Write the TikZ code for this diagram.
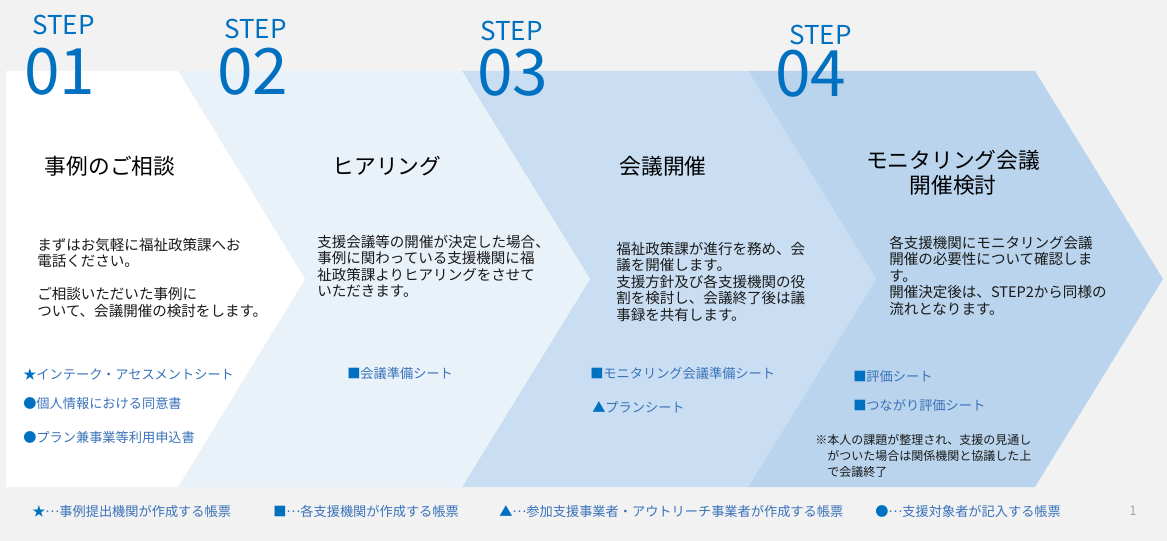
\documentclass[tikz,border=0pt]{standalone}
\usepackage{fontspec}
\setmainfont{Noto Sans CJK JP}
\definecolor{bggray}{HTML}{F2F2F2}
\definecolor{stepone}{HTML}{FFFFFF}
\definecolor{steptwo}{HTML}{E9F1F9}
\definecolor{stepthree}{HTML}{C9DEF2}
\definecolor{stepfour}{HTML}{B9D4EC}
\definecolor{stepblue}{HTML}{0070C0}
\definecolor{itemblue}{HTML}{3A72BA}
\definecolor{textblack}{HTML}{1A1A1A}
\definecolor{pagegray}{HTML}{A6A6A6}
\newcommand{\sy}[1]{\textcolor{stepblue}{#1}}
\newcommand{\mdots}{\raisebox{0.3em}{…}}
\tikzset{
  stepword/.style={anchor=west, inner sep=0, text=stepblue, font=\fontsize{19.5}{22}\selectfont},
  stepnum/.style={anchor=west, inner sep=0, text=stepblue, font=\fontsize{48}{56}\selectfont},
  titletext/.style={inner sep=0, align=center, text=black, font=\fontsize{16.3}{18.75}\selectfont},
  bodytext/.style={anchor=north west, inner sep=0, align=left, text=textblack, font=\fontsize{10.9}{12.3}\selectfont},
  itemtext/.style={anchor=west, inner sep=0, text=itemblue, font=\fontsize{9.9}{12}\selectfont},
  notetext/.style={anchor=north west, inner sep=0, align=left, text=textblack, font=\fontsize{9}{12}\selectfont},
  legendtext/.style={anchor=west, inner sep=0, text=itemblue, font=\fontsize{9.9}{12}\selectfont},
}
\begin{document}
\begin{tikzpicture}[x=0.75pt,y=-0.75pt]
\fill[bggray] (0,0) rectangle (1167,541);
\useasboundingbox (0,0) rectangle (1167,541);
% chevrons (back to front)
\fill[stepfour]  (748,71) -- (1035,71) -- (1163,279) -- (1035,487) -- (748,487) -- (876,279) -- cycle;
\fill[stepthree] (462,71) -- (748,71) -- (876,279) -- (748,487) -- (462,487) -- (590,279) -- cycle;
\fill[steptwo]   (178,71) -- (462,71) -- (590,279) -- (462,487) -- (178,487) -- (305,279) -- cycle;
\fill[stepone]   (6,71) -- (178,71) -- (305,279) -- (178,487) -- (6,487) -- cycle;
% step headings
\node[stepword] (sw1) at (32,25) {STEP};
\node[stepnum]  (sn1) at (24,72) {01};
\node[stepword] (sw2) at (224,29) {STEP};
\node[stepnum]  (sn2) at (217,72) {02};
\node[stepword] (sw3) at (480,31) {STEP};
\node[stepnum]  (sn3) at (477,73) {03};
\node[stepword] (sw4) at (789,35) {STEP};
\node[stepnum]  (sn4) at (775,74) {04};
% titles
\node[titletext] (t1) at (110,166) {事例のご相談};
\node[titletext] (t2) at (387,166) {ヒアリング};
\node[titletext] (t3) at (663,166) {会議開催};
\node[titletext] (t4) at (953,172.5) {モニタリング会議\\開催検討};
% bodies
\node[bodytext] (b1) at (37,238) {まずはお気軽に福祉政策課へお\\電話ください。\\\mbox{}\\ご相談いただいた事例に\\ついて、会議開催の検討をします。};
\node[bodytext] (b2) at (317,235) {支援会議等の開催が決定した場合、\\事例に関わっている支援機関に福\\祉政策課よりヒアリングをさせて\\いただきます。};
\node[bodytext] (b3) at (616,242) {福祉政策課が進行を務め、会\\議を開催します。\\支援方針及び各支援機関の役\\割を検討し、会議終了後は議\\事録を共有します。};
\node[bodytext] (b4) at (889,236) {各支援機関にモニタリング会議\\開催の必要性について確認しま\\す。\\開催決定後は、STEP2から同様の\\流れとなります。};
% items
\node[itemtext] (i11) at (23,374) {\sy{★}インテーク・アセスメントシート};
\node[itemtext] (i12) at (23,403) {\sy{●}個人情報における同意書};
\node[itemtext] (i13) at (23,437) {\sy{●}プラン兼事業等利用申込書};
\node[itemtext] (i21) at (347,374) {\sy{■}会議準備シート};
\node[itemtext] (i31) at (590,374) {\sy{■}モニタリング会議準備シート};
\node[itemtext] (i32) at (592,407) {\sy{▲}プランシート};
\node[itemtext] (i41) at (853,376) {\sy{■}評価シート};
\node[itemtext] (i42) at (853,405) {\sy{■}つながり評価シート};
% note
\node[notetext] (n4) at (815,434) {※本人の課題が整理され、支援の見通し\\\hspace*{1em}がついた場合は関係機関と協議した上\\\hspace*{1em}で会議終了};
% legend
\node[legendtext] (l1) at (32,511) {\sy{★}\mdots 事例提出機関が作成する帳票};
\node[legendtext] (l2) at (273,511) {\sy{■}\mdots 各支援機関が作成する帳票};
\node[legendtext] (l3) at (499,511) {\sy{▲}\mdots 参加支援事業者・アウトリーチ事業者が作成する帳票};
\node[legendtext] (l4) at (875,511) {\sy{●}\mdots 支援対象者が記入する帳票};
\node[legendtext, text=pagegray] (pg) at (1129,511) {1};
\end{tikzpicture}
\end{document}
